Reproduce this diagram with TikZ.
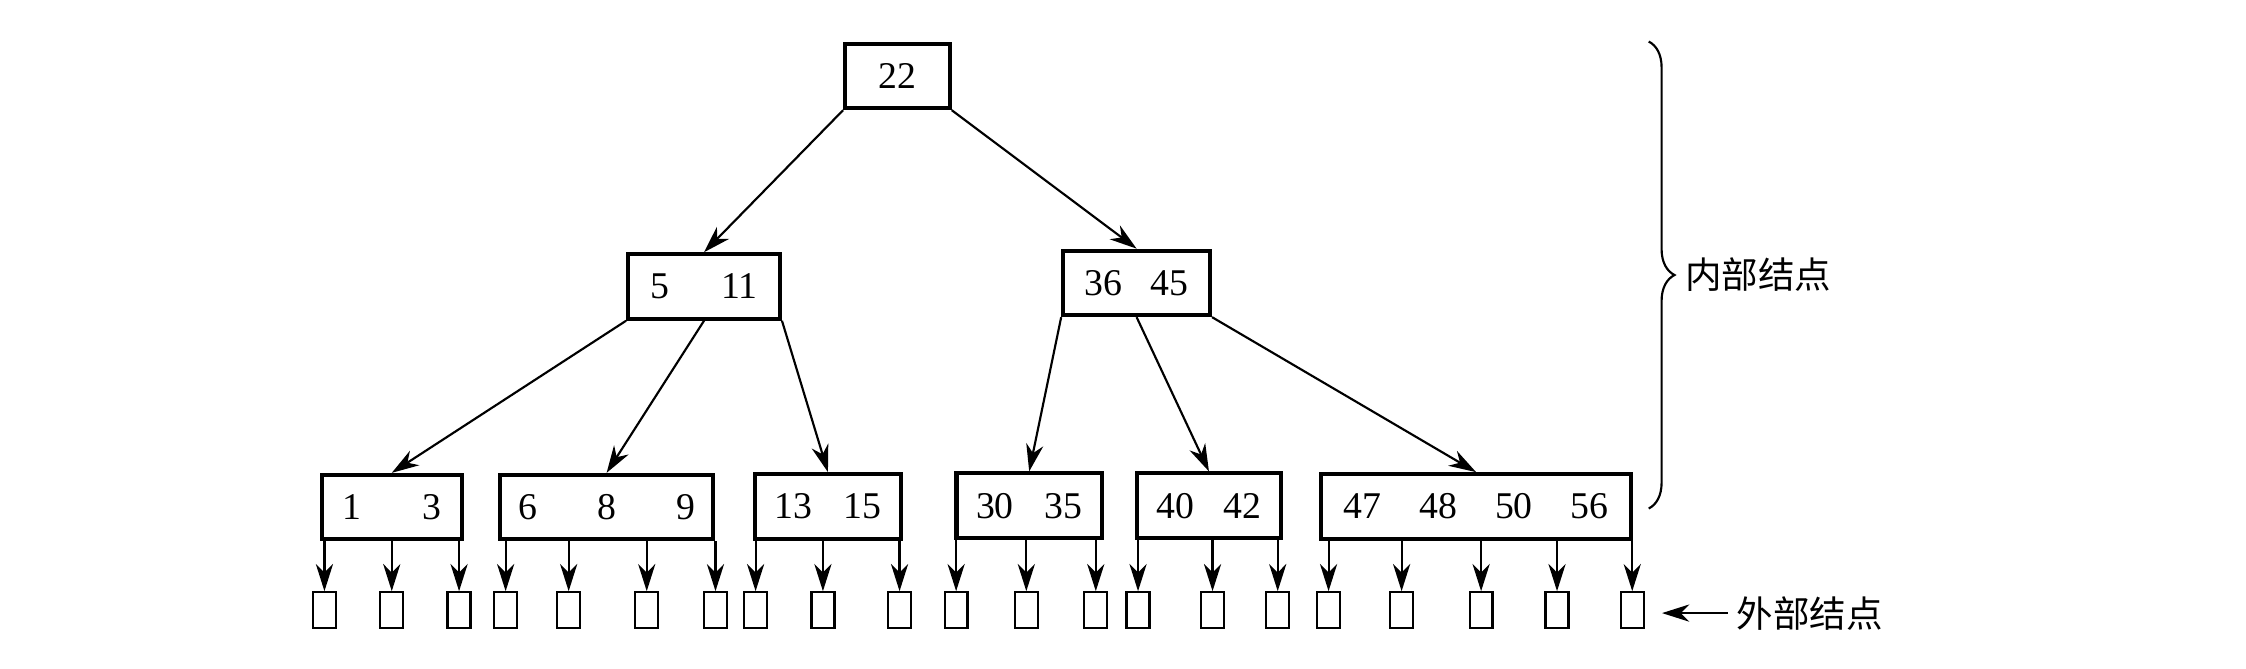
\documentclass[tikz,border=0pt]{standalone}
\usepackage{fontspec}
\setmainfont{Liberation Serif}
\newfontfamily\cjk{Noto Sans CJK SC}
\usepackage{tikz}
\usetikzlibrary{arrows.meta,positioning,calc,decorations.pathreplacing}
\tikzset{
  keybox/.style={draw,line width=1.6pt,minimum height=9mm,inner sep=0pt,
                 font=\fontsize{15}{18}\selectfont},
  extbox/.style={draw,line width=0.9pt,minimum width=3.2mm,minimum height=5mm,inner sep=0pt},
  flow/.style={-{Stealth[length=3.8mm,width=2.4mm,inset=1.2mm]},line width=0.85pt},
  bracket/.style={decorate,decoration={brace,amplitude=3.6mm},line width=0.85pt},
  note/.style={font=\cjk\fontsize{14.5}{17}\selectfont,inner sep=0pt,anchor=west}
}
\begin{document}
\begin{tikzpicture}
  \useasboundingbox (0,0) rectangle (31.36,-9.34);
  % internal nodes
  \node[keybox,minimum width=14.6mm] (root) at (12.53,-1.06) {22};
  \node[keybox,minimum width=21.2mm] (k511) at (9.83,-4.00) {5\hspace{7.2mm}11};
  \node[keybox,minimum width=20.5mm] (k3645) at (15.87,-3.95) {36\hspace{4mm}45};
  \node[keybox,minimum width=19.5mm] (k13) at (5.47,-7.08) {1\hspace{8.5mm}3};
  \node[keybox,minimum width=29.8mm] (k689) at (8.47,-7.08) {6\hspace{8.4mm}8\hspace{8.4mm}9};
  \node[keybox,minimum width=20.3mm] (k1315) at (11.56,-7.07) {13\hspace{4.4mm}15};
  \node[keybox,minimum width=20.3mm] (k3035) at (14.37,-7.06) {30\hspace{4.3mm}35};
  \node[keybox,minimum width=20.2mm] (k4042) at (16.88,-7.06) {40\hspace{4mm}42};
  \node[keybox,minimum width=43.3mm] (k4756) at (20.61,-7.07) {47\hspace{5.3mm}48\hspace{5.3mm}50\hspace{5.3mm}56};

  \draw[flow] (root.south west) -- (k511.north);
  \draw[flow] (root.south east) -- (k3645.north);
  \draw[flow] (k511.south west) -- (k13.north);
  \draw[flow] (k511.south) -- (k689.north);
  \draw[flow] (k511.south east) -- (k1315.north);
  \draw[flow] (k3645.south west) -- (k3035.north);
  \draw[flow] (k3645.south) -- (k4042.north);
  \draw[flow] (k3645.south east) -- (k4756.north);

  % external nodes
  \foreach \xx/\leaf [count=\i] in {4.53/k13,5.47/k13,6.41/k13,
      7.06/k689,7.94/k689,9.03/k689,9.99/k689,
      10.55/k1315,11.49/k1315,12.56/k1315,
      13.35/k3035,14.33/k3035,15.30/k3035,
      15.89/k4042,16.93/k4042,17.84/k4042,
      18.55/k4756,19.57/k4756,20.68/k4756,21.74/k4756,22.79/k4756}{
    \node[extbox] (x\i) at (\xx,-8.52) {};
    \draw[flow] (\leaf.south -| x\i.north) -- (x\i.north);
  }

  \coordinate (bracetop) at (23.02,-0.58);
  \coordinate (bracebot) at (23.02,-7.10);
  \draw[bracket] (bracetop) -- (bracebot);
  \node[note] (inner) at (23.52,-3.84) {内部结点};
  \node[note] (outer) at (24.24,-8.56) {外部结点};
  \draw[flow,shorten <=1.2mm,shorten >=2.4mm] (outer.west) -- (outer.west -| x21.east);
\end{tikzpicture}
\end{document}
